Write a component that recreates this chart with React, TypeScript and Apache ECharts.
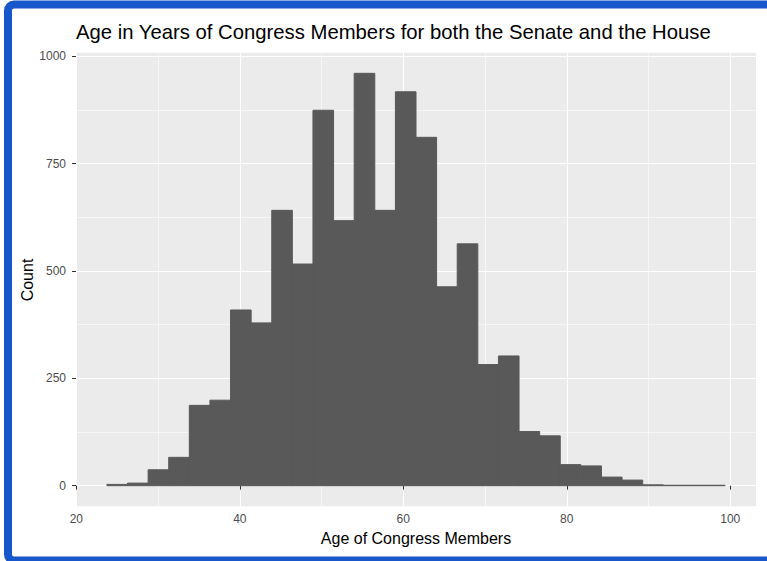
import React, { useEffect, useRef } from "react";
import * as echarts from "echarts";

// Histogram: counts per bin (30 bins)
const binStart = 23.74;
const binWidth = 2.521;
const counts = [
  3, 6, 37, 66, 187, 199, 409, 379, 641, 516,
  874, 617, 960, 641, 917, 811, 463, 563, 282, 302,
  126, 116, 49, 46, 20, 13, 2, 1, 1, 1,
];
const xMajorTicks = [20, 40, 60, 80, 100];
const xMinorTicks = [30, 50, 70, 90];
const yMajorTicks = [0, 250, 500, 750, 1000];
const yMinorTicks = [125, 375, 625, 875];

const titleText = "Age in Years of Congress Members for both the Senate and the House";
const xTitle = "Age of Congress Members";
const yTitle = "Count";

export default function App() {
  const ref = useRef<HTMLDivElement>(null);
  useEffect(() => {
    if (!ref.current) return;
    const chart = echarts.init(ref.current, undefined, { renderer: "svg" });
    const data = counts.map((c, i) => [binStart + i * binWidth, binStart + (i + 1) * binWidth, c]);
    const xMin = 19.96;
    const xMax = 103.15;
    const maxC = Math.max(...counts);
    const yMin = -maxC * 0.05;
    const yMax = maxC * 1.05;
    const font = "Liberation Sans, Arial, sans-serif";
    const plain = (v: number) => String(v);
    chart.setOption({
      animation: false,
      backgroundColor: "#ffffff",
      textStyle: { fontFamily: font },
      title: {
        text: titleText,
        left: 76,
        top: 22,
        padding: 0,
        textStyle: { fontSize: 20.3, fontWeight: "normal", color: "#000", fontFamily: font },
      },
      graphic: [
        {
          type: "text",
          x: 27,
          y: 280,
          rotation: Math.PI / 2,
          style: {
            text: yTitle,
            fill: "#000",
            fontSize: 16,
            fontFamily: font,
            align: "center",
            verticalAlign: "middle",
          },
          silent: true,
        },
        {
          type: "rect",
          shape: { x: 8, y: 4.5, width: 800, height: 556, r: 6 },
          style: { fill: "none", stroke: "#1857CB", lineWidth: 8 },
          z: 100,
          silent: true,
        },
      ],
      grid: {
        show: true,
        left: 76,
        top: 52.7,
        right: 11,
        bottom: 54.7,
        backgroundColor: "#EBEBEB",
        borderWidth: 0,
      },
      xAxis: [
        {
          type: "value",
          min: xMin,
          max: xMax,
          axisLine: { show: false },
          axisTick: { show: true, customValues: xMajorTicks, length: 4, lineStyle: { color: "#333", width: 1 } },
          axisLabel: { customValues: xMajorTicks, formatter: plain, color: "#4D4D4D", fontSize: 12, margin: 7, fontFamily: font },
          splitLine: { show: true, lineStyle: { color: "#ffffff", width: 1.1 } },
          name: xTitle,
          nameLocation: "middle",
          nameGap: 23,
          nameTextStyle: { color: "#000", fontSize: 16, fontFamily: font, verticalAlign: "top" },
        },
        {
          type: "value",
          min: xMin,
          max: xMax,
          position: "bottom",
          axisLine: { show: false },
          axisTick: { show: false, customValues: xMinorTicks },
          axisLabel: { show: false },
          splitLine: { show: true, lineStyle: { color: "#ffffff", width: 0.55 } },
        },
      ],
      yAxis: [
        {
          type: "value",
          min: yMin,
          max: yMax,
          axisLine: { show: false },
          axisTick: { show: true, customValues: yMajorTicks, length: 4, lineStyle: { color: "#333", width: 1 } },
          axisLabel: { customValues: yMajorTicks, formatter: plain, color: "#4D4D4D", fontSize: 12, margin: 10, fontFamily: font },
          splitLine: { show: true, lineStyle: { color: "#ffffff", width: 1.1 } },
        },
        {
          type: "value",
          min: yMin,
          max: yMax,
          position: "left",
          axisLine: { show: false },
          axisTick: { show: false, customValues: yMinorTicks },
          axisLabel: { show: false },
          splitLine: { show: true, lineStyle: { color: "#ffffff", width: 0.55 } },
        },
      ],
      series: [
        {
          type: "custom",
          xAxisIndex: 0,
          yAxisIndex: 0,
          data,
          renderItem: (params: any, api: any) => {
            const p0 = api.coord([api.value(0), api.value(2)]);
            const p1 = api.coord([api.value(1), 0]);
            return {
              type: "rect",
              shape: { x: p0[0], y: p0[1], width: p1[0] - p0[0], height: p1[1] - p0[1] },
              style: { fill: "#595959", stroke: "#595959", lineWidth: 1 },
            };
          },
        },
      ],
    });
    return () => chart.dispose();
  }, []);
  return (
    <div
      ref={ref}
      style={{ position: "fixed", left: 0, top: 0, width: 767, height: 561 }}
    />
  );
}
